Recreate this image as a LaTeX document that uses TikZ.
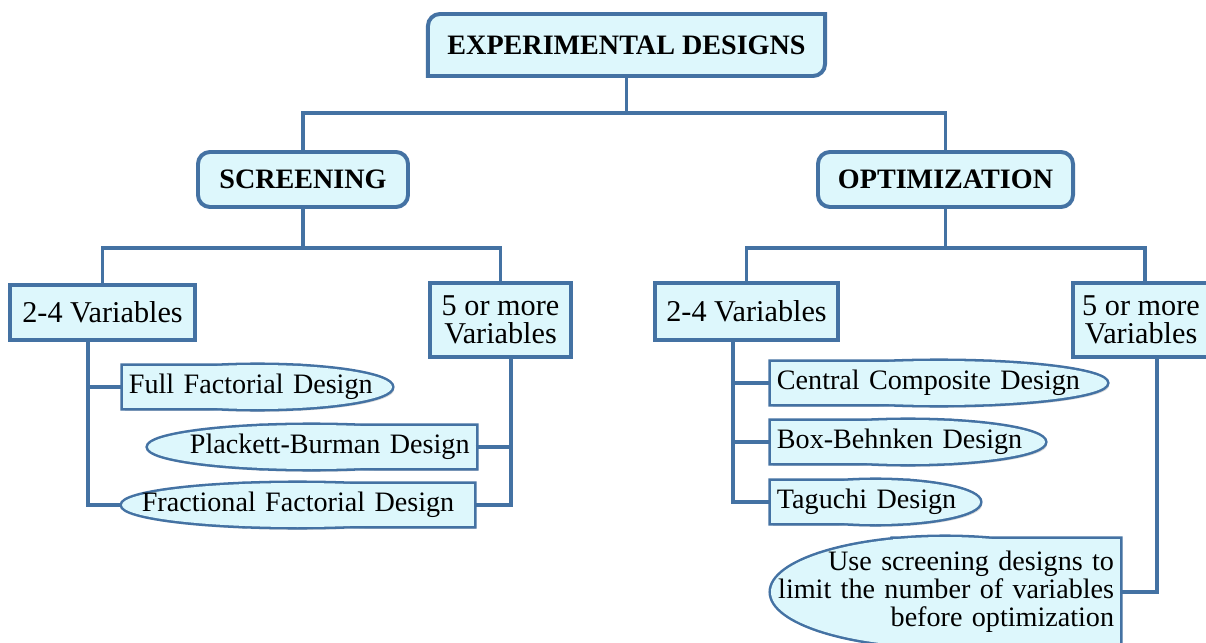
\documentclass[tikz,border=0pt]{standalone}
\usepackage{fontspec}
\setmainfont{Liberation Serif}
\usetikzlibrary{backgrounds,shadows}
\definecolor{randblau}{RGB}{68,114,163}
\definecolor{fuell}{RGB}{221,247,252}

\begin{document}
\begin{tikzpicture}[x=0.025cm, y=-0.025cm, font=\fontsize{20}{20}\selectfont,
  kasten/.style={draw=randblau, line width=2.8pt, fill=fuell, inner sep=0pt, outer sep=0pt, align=center, font=\fontsize{21.5}{20}\selectfont},
  titel/.style={kasten, rounded corners=0.3cm, font=\fontsize{20}{20}\selectfont\bfseries},
  kopf/.style={inner sep=0pt, outer sep=0pt, font=\fontsize{20}{20}\selectfont\bfseries},
  linie/.style={draw=randblau, line width=2.8pt},
  umriss/.style={draw=randblau, line width=3.6pt, fill=fuell, drop shadow={shadow xshift=1.5pt, shadow yshift=-2pt, opacity=0.3}},
  innen/.style={fill=fuell},
  blatt/.style={inner xsep=0.15cm, inner ysep=0pt, outer sep=0pt}]
  \useasboundingbox (0,0) rectangle (1206,643);
  % Kopf
  \node[kopf, minimum width=9.925cm, minimum height=1.55cm] (ed) at (626.5,45) {EXPERIMENTAL DESIGNS};
  \begin{scope}[on background layer]
    \draw[kasten] (ed.west) [rounded corners=0.3cm] -- (ed.north west) -- (ed.north) [sharp corners] -- (ed.north east) -- (ed.east) [rounded corners=0.3cm] -- (ed.south east) -- (ed.south) [sharp corners] -- (ed.south west) -- cycle;
  \end{scope}
  % Ebene 2
  \node[titel, minimum width=5.25cm, minimum height=1.375cm] (scr) at (303,179.5) {SCREENING};
  \node[titel, minimum width=6.375cm, minimum height=1.375cm] (opt) at (945.5,179.5) {OPTIMIZATION};
  % Ebene 3
  \node[kasten, minimum width=4.625cm, minimum height=1.375cm] (l24) at (102.5,312.5) {2-4 Variables};
  \node[kasten, minimum width=3.525cm, minimum height=1.85cm] (l5) at (500.5,320) {5 or more\\Variables};
  \node[kasten, minimum width=4.575cm, minimum height=1.425cm] (r24) at (746.5,311.5) {2-4 Variables};
  \node[kasten, minimum width=3.4cm, minimum height=1.85cm] (r5) at (1141,320) {5 or more\\Variables};
  % Blaetter links
  \path[umriss] (123,366) rectangle (298,408) (257.5,387) ellipse [x radius=134.5, y radius=22];
  \path[innen] (123,366) rectangle (298,408);
  \path[innen] (257.5,387) ellipse [x radius=134.5, y radius=22];
  \node[blatt, text width=6.425cm, align=left] (ff) at (257.5,387) {Full Factorial Design};
  \path[umriss] (262,426) rectangle (476,468) (311.5,447) ellipse [x radius=163.5, y radius=22];
  \path[innen] (262,426) rectangle (476,468);
  \path[innen] (311.5,447) ellipse [x radius=163.5, y radius=22];
  \node[blatt, text width=7.875cm, align=right] (pb) at (312,447) {Plackett-Burman Design};
  \path[umriss] (245,484) rectangle (474,526) (297.5,505) ellipse [x radius=175.5, y radius=22];
  \path[innen] (245,484) rectangle (474,526);
  \path[innen] (297.5,505) ellipse [x radius=175.5, y radius=22];
  \node[blatt, text width=8.5cm, align=center] (frf) at (298,505) {Fractional Factorial Design};
  % Blaetter rechts
  \path[umriss] (771,362) rectangle (989,404) (939,383) ellipse [x radius=168, y radius=22];
  \path[innen] (771,362) rectangle (989,404);
  \path[innen] (939,383) ellipse [x radius=168, y radius=22];
  \node[blatt, text width=8.1cm, align=left] (cc) at (939,383) {Central Composite Design};
  \path[umriss] (771,421) rectangle (949,463) (908,442) ellipse [x radius=137, y radius=22];
  \path[innen] (771,421) rectangle (949,463);
  \path[innen] (908,442) ellipse [x radius=137, y radius=22];
  \node[blatt, text width=6.55cm, align=left] (bb) at (908,442) {Box-Behnken Design};
  \path[umriss] (771,481) rectangle (907,523) (875.5,502) ellipse [x radius=104.5, y radius=22];
  \path[innen] (771,481) rectangle (907,523);
  \path[innen] (875.5,502) ellipse [x radius=104.5, y radius=22];
  \node[blatt, text width=4.925cm, align=left] (td) at (875.5,502) {Taguchi Design};
  \path[umriss] (893,539) rectangle (1120,645) (945,592) ellipse [x radius=174, y radius=55];
  \path[innen] (893,539) rectangle (1120,645);
  \path[innen] (945,592) ellipse [x radius=174, y radius=55];
  \node[blatt, text width=8.425cm, align=right] (us) at (945.5,592) {Use screening designs to\\limit the number of variables\\before optimization};
  % Linien oben
  \draw[linie] (ed.south) -- ++(0,37);
  \draw[linie] (scr.north) -- ++(0,-39) -| (opt.north);
  \draw[linie] (scr.south) -- ++(0,41);
  \draw[linie] (l24.north) -- ++(0,-37) -| (l5.north);
  \draw[linie] (opt.south) -- ++(0,41);
  \draw[linie] (r24.north) -- ++(0,-35) -| ([xshift=0.1cm]r5.north);
  % Linien unten
  \coordinate (l24s) at ([xshift=-0.3625cm]l24.south);
  \coordinate (l5s) at ([xshift=0.2625cm]l5.south);
  \coordinate (r24s) at ([xshift=-0.3375cm]r24.south);
  \coordinate (r5s) at ([xshift=0.4cm]r5.south);
  \draw[linie] (l24s) |- (frf.west);
  \draw[linie] (ff.west) -- (ff.west -| l24s);
  \draw[linie] (l5s) |- (frf.east);
  \draw[linie] (pb.east) -- (pb.east -| l5s);
  \draw[linie] (r24s) |- (td.west);
  \draw[linie] (cc.west) -- (cc.west -| r24s);
  \draw[linie] (bb.west) -- (bb.west -| r24s);
  \draw[linie] (r5s) |- (us.east);
\end{tikzpicture}
\end{document}
